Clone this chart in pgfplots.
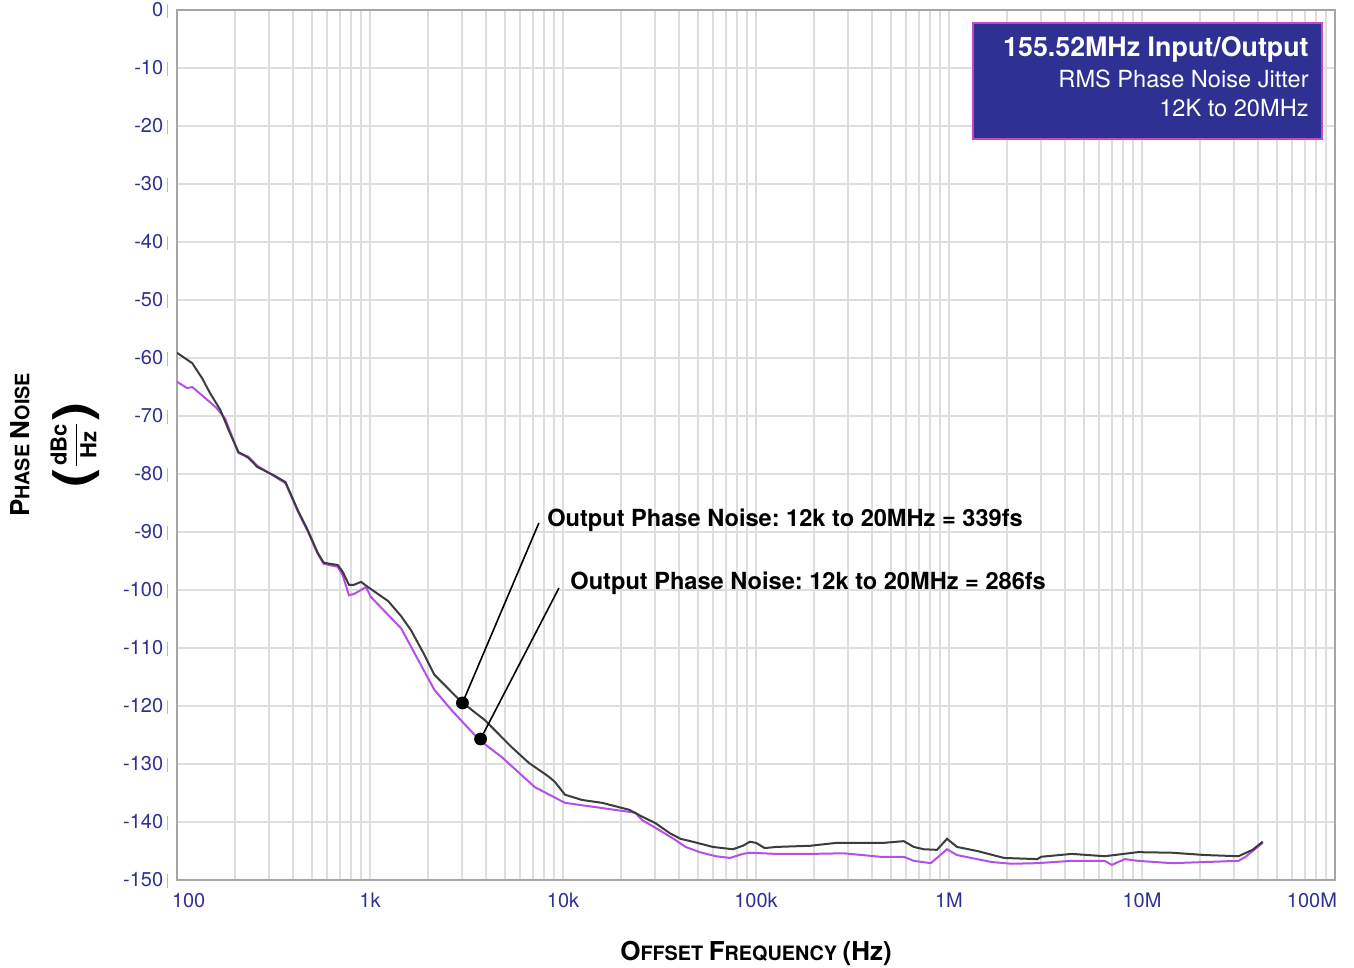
\documentclass[border=0pt]{standalone}
\usepackage{fontspec}
\setmainfont{TeX Gyre Heros}
\usepackage{pgfplots}
\pgfplotsset{compat=1.18}
\definecolor{tickblue}{RGB}{46,49,146}
\definecolor{boxblue}{RGB}{46,49,146}
\definecolor{boxedge}{RGB}{200,70,200}
\definecolor{curveblk}{RGB}{60,60,60}
\definecolor{curvepur}{RGB}{180,80,230}
\definecolor{gridgray}{RGB}{222,222,222}
% fake small caps: big first letter, small rest
\newcommand{\fsc}[2]{{\fontsize{13}{14}\selectfont #1}{\fontsize{9.9}{10}\selectfont #2}}
% tall bold bracket for the unit
\newcommand{\tallparen}[1]{\vcenter{\hbox{\fontsize{22}{22}\bfseries\selectfont\scalebox{1.3}[1.15]{#1}}}}
\frenchspacing

\begin{document}
\begin{tikzpicture}
\begin{axis}[
    name=ax,
    scale only axis,
    width=579pt, height=435pt,
    xmode=log,
    xmin=100, xmax=1e8,
    ymin=-150, ymax=0,
    xtick={1e2,1e3,1e4,1e5,1e6,1e7,1e8},
    xticklabels={\makebox[0pt][l]{\hspace{-2.5pt}100},1k,10k,100k,1M,10M,\makebox[0pt][r]{100M\hspace{-1pt}}},
    ytick={-150,-140,...,0},
    yticklabel={\pgfmathparse{int(\tick)}\pgfmathresult\,\textcolor{tickblue!35}{\rule[-1pt]{0.5pt}{7pt}}},
    xmajorgrids=true, xminorgrids=true, ymajorgrids=true,
    grid style={draw=gridgray, line width=1pt},
    minor grid style={draw=gridgray, line width=1pt},
    major tick length=0pt, minor tick length=0pt,
    axis line style={draw=gray!70, line width=1pt},
    tick label style={font=\fontsize{10}{12}\selectfont, text=tickblue},
    xticklabel style={yshift=-3pt},
    yticklabel style={xshift=-1.2pt},
]

% purple trace (286fs)
\addplot[curvepur, line width=1pt] coordinates {
    (100,-64.1) (113,-65.2) (120,-65.0) (148,-67.6) (160,-68.6) (178,-70.5)
    (208,-76.4) (234,-77.0) (261,-78.6) (316,-80.3) (365,-81.6) (422,-86.4)
    (476,-89.9) (536,-93.8) (576,-95.5) (681,-96.0) (723,-97.5) (778,-100.9)
    (826,-100.7) (898,-100.0) (953,-99.5) (1010,-101.2) (1449,-106.6)
    (2154,-117.2) (2643,-120.7) (3697,-125.9) (4810,-128.8) (7150,-134.0)
    (10240,-136.7) (15960,-137.6) (23700,-138.4) (25760,-139.7) (30130,-141.0)
    (37000,-142.8) (43200,-144.3) (51100,-145.2) (61900,-145.9) (73300,-146.2)
    (85500,-145.5) (93000,-145.3) (127000,-145.5) (191000,-145.5) (284000,-145.4)
    (443000,-146.0) (583000,-146.0) (657000,-146.7) (805000,-147.1) (977000,-144.7)
    (1100000,-145.7) (1660000,-146.9) (2100000,-147.2) (2870000,-147.1)
    (4320000,-146.7) (6410000,-146.7) (6980000,-147.4) (8150000,-146.4)
    (9530000,-146.7) (14300000,-147.1) (21300000,-146.9) (31600000,-146.7)
    (34400000,-146.0) (42200000,-143.6)
};

% black trace (339fs)
\addplot[curveblk, line width=1pt] coordinates {
    (100,-59.1) (120,-60.9) (135,-63.5) (148,-66.0) (168,-69.0) (185,-72.4)
    (208,-76.2) (234,-77.2) (261,-78.8) (316,-80.2) (365,-81.4) (422,-86.2)
    (476,-89.7) (536,-93.6) (576,-95.3) (681,-95.7) (723,-96.9) (778,-99.1)
    (826,-99.1) (898,-98.6) (977,-99.5) (1241,-101.9) (1449,-104.5) (1636,-107.0)
    (1900,-111.0) (2154,-114.6) (2978,-119.3) (3926,-122.4) (5420,-127.1) (6650,-129.8)
    (8450,-132.2) (9080,-133.1) (10240,-135.3) (12550,-136.2) (15960,-136.7)
    (22070,-137.9) (25760,-139.1) (30130,-140.2) (35650,-141.9) (40640,-142.9)
    (47000,-143.4) (59700,-144.3) (75900,-144.7) (85500,-144.1) (93000,-143.4)
    (100000,-143.6) (111000,-144.5) (127000,-144.3) (191000,-144.1) (261000,-143.6)
    (332000,-143.6) (458000,-143.6) (583000,-143.3) (657000,-144.3) (741000,-144.7)
    (867000,-144.8) (977000,-142.9) (1100000,-144.3) (1400000,-145.0)
    (1930000,-146.2) (2870000,-146.4) (3000000,-146.0) (4320000,-145.5)
    (6410000,-145.9) (9530000,-145.2) (14300000,-145.3) (21300000,-145.7)
    (31600000,-145.9) (37400000,-144.8) (42200000,-143.4)
};

% callout leaders and dots
\addplot[black, line width=0.8pt, no marks] coordinates {(3013,-119.48) (7499,-88.45)};
\addplot[black, line width=0.8pt, no marks] coordinates {(3741,-125.69) (9528,-99.66)};
\addplot[black, only marks, mark=*, mark size=3pt] coordinates {(3013,-119.48) (3741,-125.69)};

\node[anchor=base west, inner sep=0pt, font=\bfseries\fontsize{11.8}{13}\selectfont]
    at (axis cs:8254,-88.97) {Output Phase Noise: 12k to 20MHz = 339fs};
\node[anchor=base west, inner sep=0pt, font=\bfseries\fontsize{11.8}{13}\selectfont]
    at (axis cs:10876,-100) {Output Phase Noise: 12k to 20MHz = 286fs};
\end{axis}

% title box
\draw[boxedge, fill=boxblue, line width=0.6pt]
    ([xshift=-181pt,yshift=-6.5pt]ax.north east) rectangle ([xshift=-6.5pt,yshift=-64.5pt]ax.north east);
\node[anchor=base east, inner sep=0pt, text=white, font=\bfseries\fontsize{13.4}{15}\selectfont]
    at ([xshift=-13pt,yshift=-23.5pt]ax.north east) {155.52MHz Input/Output};
\node[anchor=base east, inner sep=0pt, text=white, font=\fontsize{11.8}{13}\selectfont]
    at ([xshift=-13pt,yshift=-39pt]ax.north east) {RMS Phase Noise Jitter};
\node[anchor=base east, inner sep=0pt, text=white, font=\fontsize{11.8}{13}\selectfont]
    at ([xshift=-13pt,yshift=-53.5pt]ax.north east) {12K to 20MHz};

% axis titles
\node[rotate=90, font=\bfseries] at ([xshift=-78.5pt]ax.west) {\fsc{P}{HASE} \fsc{N}{OISE}};
\node[rotate=90, inner sep=0pt] at ([xshift=-51pt]ax.west)
    {\fontsize{11}{13}\selectfont$\tallparen{(}\displaystyle\frac{\textbf{dBc}}{\textbf{Hz}}\tallparen{)}$};
\node[font=\bfseries] at ([yshift=-36.5pt]ax.south)
    {\fsc{O}{FFSET} \fsc{F}{REQUENCY} {\fontsize{13}{14}\selectfont (Hz)}};

\pgfresetboundingbox
\path[use as bounding box] ([xshift=-88.5pt,yshift=-44pt]ax.south west) rectangle ([xshift=9.5pt,yshift=5pt]ax.north east);
\end{tikzpicture}
\end{document}
